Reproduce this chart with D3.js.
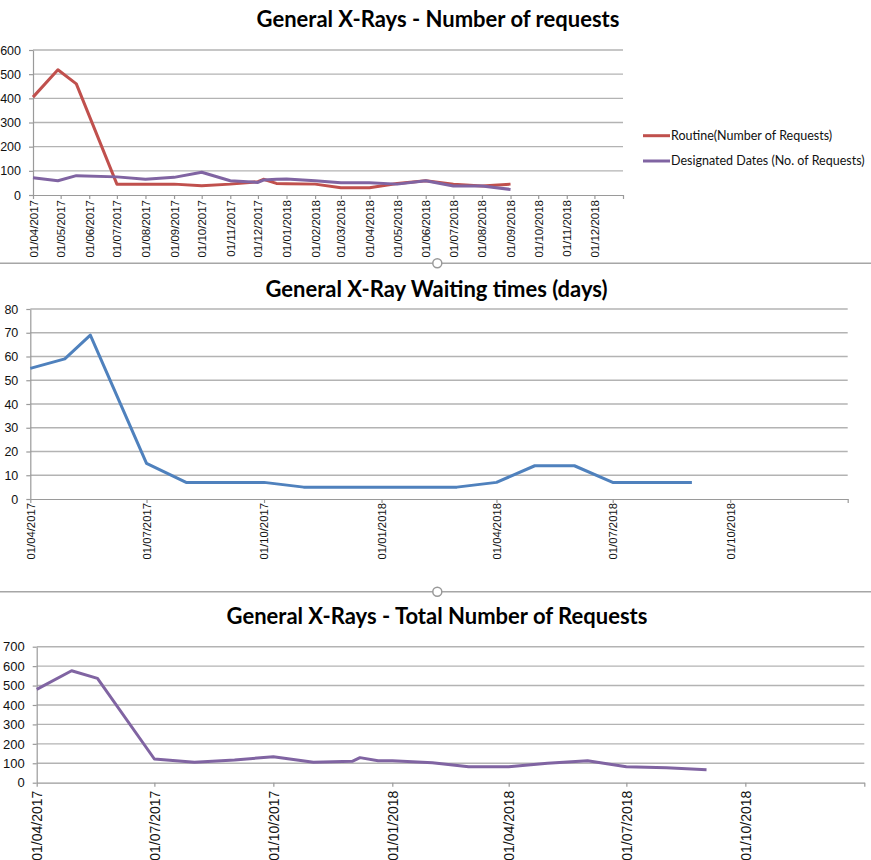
<!DOCTYPE html>
<html>
<head>
<meta charset="utf-8">
<script src="https://cdn.jsdelivr.net/npm/d3@7"></script>
<style>
  body { margin: 0; background: #fff; }
  svg { display: block; font-family: Lato, "Open Sans", sans-serif; }
  .grid line { stroke: #b3b3b3; stroke-width: 1.4; }
  .axis path, .axis line { stroke: #9a9a9a; stroke-width: 1.2; }
  .axis text { fill: #111; }
  .title { font-weight: bold; fill: #000; }
</style>
</head>
<body>
<div id="chart"></div>
<script>
// dates of the data points (shared by the three charts)
const dates = ["2017-04-01", "2017-04-28", "2017-05-18", "2017-07-01", "2017-08-01",
  "2017-09-01", "2017-10-01", "2017-11-01", "2017-12-01", "2017-12-07", "2017-12-21",
  "2018-01-01", "2018-02-01", "2018-03-01", "2018-04-01", "2018-05-01", "2018-06-01",
  "2018-07-01", "2018-08-01", "2018-09-01"];

const routine = [405, 518, 460, 45, 45, 45, 38, 45, 55, 65, 48, 47, 45, 30, 30, 48, 59, 45, 37, 45];
const designated = [71, 59, 80, 75, 65, 73, 94, 59, 52, 62, 65, 66, 59, 51, 51, 45, 59, 37, 37, 23];
const waiting = [55, 59, 69, 15, 7, 7, 7, 5, 5, 5, 5, 5, 5, 5, 7, 14, 14, 7, 7, 7];
const total = [480, 576, 537, 122, 105, 117, 134, 105, 110, 129, 113, 113, 103, 82, 82, 100, 113, 82, 77, 67];

const seriesNames = ["Routine(Number of Requests)", "Designated Dates (No. of Requests)"];
const titles = ["General X-Rays - Number of requests", "General X-Ray Waiting times (days)",
  "General X-Rays - Total Number of Requests"];

const axisStart = new Date(Date.UTC(2017, 3, 1)),
  axisEnd = new Date(Date.UTC(2019, 0, 1));

const parse = d3.utcParse("%Y-%m-%d");
const fmt = d3.utcFormat("%d/%m/%Y");

const svg = d3.select("#chart").append("svg")
  .attr("width", 871)
  .attr("height", 860);

function lineChart(opts) {
  const x = d3.scaleUtc().domain([axisStart, axisEnd]).range([opts.left, opts.right]);
  const y = d3.scaleLinear().domain([0, opts.yMax]).range([opts.bottom, opts.top]);
  const yTicks = d3.range(0, opts.yMax + 1, opts.yStep);

  // gridlines
  svg.append("g")
    .attr("class", "grid")
    .selectAll("line")
    .data(yTicks.slice(1))
    .enter().append("line")
      .attr("x1", opts.left)
      .attr("x2", opts.right)
      .attr("y1", d => y(d))
      .attr("y2", d => y(d));

  // y axis
  const yAxis = svg.append("g")
    .attr("class", "axis")
    .attr("transform", "translate(" + opts.left + ",0)")
    .call(d3.axisLeft(y).tickValues(yTicks).tickSize(4).tickSizeOuter(0).tickPadding(8));
  yAxis.selectAll("text").style("font-size", opts.yFont + "px");

  // x axis, one label per tick except the closing one
  let tickDates = d3.utcMonth.every(opts.monthStep).range(axisStart, axisEnd);
  tickDates.push(axisEnd);
  const xAxis = svg.append("g")
    .attr("class", "axis")
    .attr("transform", "translate(0," + opts.bottom + ")")
    .call(d3.axisBottom(x).tickValues(tickDates).tickSize(4).tickSizeOuter(0)
      .tickFormat(d => +d === +axisEnd ? "" : fmt(d)));
  xAxis.selectAll("text")
    .style("font-size", opts.xFont + "px")
    .attr("text-anchor", "end")
    .attr("transform", "rotate(-90)")
    .attr("x", -opts.xGap)
    .attr("y", 0)
    .attr("dy", "0.35em");

  // lines
  const line = d3.line()
    .x((d, i) => x(parse(dates[i])))
    .y(d => y(d));

  opts.series.forEach(s => {
    svg.append("path")
      .datum(s.values)
      .attr("fill", "none")
      .attr("stroke", s.color)
      .attr("stroke-width", 3)
      .attr("stroke-linejoin", "round")
      .attr("d", line);
  });

  svg.append("text")
    .attr("class", "title")
    .attr("x", opts.titleX)
    .attr("y", opts.titleY)
    .attr("text-anchor", "middle")
    .style("font-size", "22px")
    .text(opts.title);
}

lineChart({
  left: 33, right: 623, top: 50, bottom: 195,
  yMax: 600, yStep: 100, monthStep: 1,
  yFont: 12.5, xFont: 11.5, xGap: 5,
  title: titles[0], titleX: 438, titleY: 27,
  series: [
    { values: routine, color: "#c0504d" },
    { values: designated, color: "#8064a2" }
  ]
});

lineChart({
  left: 30.3, right: 847.7, top: 309, bottom: 499,
  yMax: 80, yStep: 10, monthStep: 3,
  yFont: 12.5, xFont: 11.3, xGap: 4,
  title: titles[1], titleX: 436.5, titleY: 297,
  series: [{ values: waiting, color: "#4f81bd" }]
});

lineChart({
  left: 36.7, right: 864.3, top: 646.7, bottom: 782.7,
  yMax: 700, yStep: 100, monthStep: 3,
  yFont: 13, xFont: 14, xGap: 8,
  title: titles[2], titleX: 437, titleY: 624,
  series: [{ values: total, color: "#8064a2" }]
});

// legend for the first chart
const legend = svg.append("g")
  .selectAll("g")
  .data(seriesNames)
  .enter().append("g")
    .attr("transform", (d, i) => "translate(643," + (135.7 + i * 25.3) + ")");

legend.append("line")
  .attr("x1", 0)
  .attr("x2", 27)
  .attr("stroke", (d, i) => i ? "#8064a2" : "#c0504d")
  .attr("stroke-width", 3);

legend.append("text")
  .attr("x", 28)
  .attr("dy", "0.35em")
  .style("font-size", "12.5px")
  .style("fill", "#111")
  .text(d => d);

// chart frame separators with the little handles
[263.3, 591.7].forEach(yy => {
  svg.append("line")
    .attr("x1", 0).attr("x2", 871)
    .attr("y1", yy).attr("y2", yy)
    .attr("stroke", "#a6a6a6")
    .attr("stroke-width", 1.5);
  svg.append("circle")
    .attr("cx", 437.3).attr("cy", yy)
    .attr("r", 4.5)
    .attr("fill", "#fff")
    .attr("stroke", "#999")
    .attr("stroke-width", 1.5);
});
</script>
</body>
</html>
